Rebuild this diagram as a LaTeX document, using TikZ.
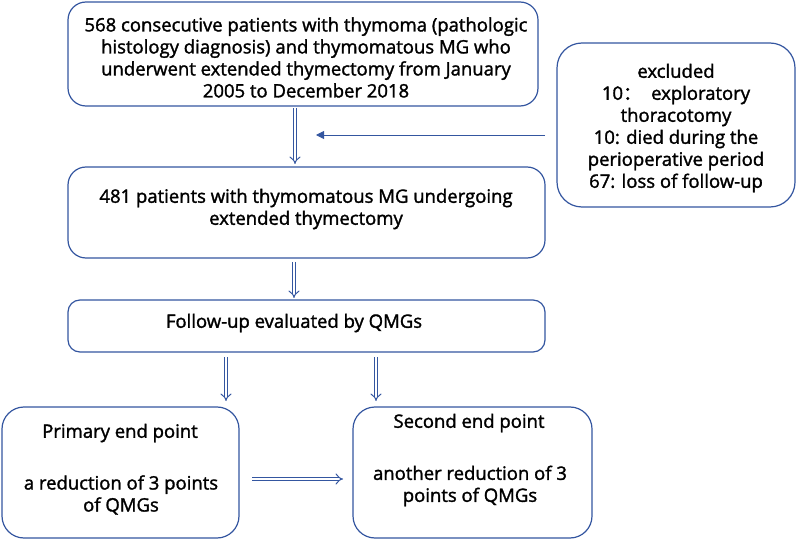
\documentclass[tikz,border=0pt]{standalone}
\usepackage{fontspec}
\setmainfont{Open Sans}[FakeBold=1.6]
\newfontfamily\cjk{Noto Sans CJK SC}[FakeBold=1.6]
\usetikzlibrary{arrows.meta}
\definecolor{bl}{RGB}{52,86,160}
\begin{document}
\begin{tikzpicture}[x=1pt,y=-1pt,
  box/.style={draw=bl,line width=1.2pt,rounded corners=18pt,fill=white},
  txt/.style={align=center,font=\fontsize{18.5}{22}\selectfont,text=black,inner sep=0pt},
  dbl/.style={draw=bl,double=white,double distance=2.8pt,line width=1pt,-{Implies}},
  sgl/.style={draw=bl,line width=0.9pt,-{Triangle[length=8pt,width=8pt]}}]
\useasboundingbox (0,0) rectangle (796,540);
% boxes
\draw[box] (68,2) rectangle (538,106);
\node[txt] (t1) at (306,57.5) {568 consecutive patients with thymoma (pathologic\\histology diagnosis) and thymomatous MG who\\underwent extended thymectomy from January\\2005 to December 2018};
\coordinate (b1s) at (295,108);
\draw[box] (68,167) rectangle (545,258);
\node[txt] (t2) at (306,209) {481 patients with thymomatous MG undergoing\\extended thymectomy};
\coordinate (b2n) at (295,164);
\coordinate (b2s) at (294,262);
\draw[box,rounded corners=25pt] (557,43) rectangle (795,207);
\node[txt] (t3) at (676,128) {excluded\\10{\cjk ：}\ \ exploratory\\thoracotomy\\10: died during the\\perioperative period\\67: loss of follow-up};
\coordinate (exw) at (545,135);
\coordinate (exe) at (316,135);
\draw[box,rounded corners=12pt] (68,300) rectangle (545,352);
\node[txt] (t4) at (294,323) {Follow-up evaluated by QMGs};
\coordinate (f1n) at (294,298);
\coordinate (f1a) at (226,357);
\coordinate (f1b) at (376,357);
\coordinate (p1) at (226,401);
\coordinate (p2) at (376,401);
\draw[box,rounded corners=22pt] (2,407) rectangle (239,538);
\node[txt] (t5) at (120,433) {Primary end point};
\node[txt] (t6) at (121,495) {a reduction of 3 points\\of QMGs};
\draw[box,rounded corners=22pt] (353,407) rectangle (592,538);
\node[txt] (t7) at (469,423) {Second end point};
\node[txt] (t8) at (470,486) {another reduction of 3\\points of QMGs};
\coordinate (h1) at (252,479);
\coordinate (h2) at (343,479);
% arrows
\draw[dbl] (b1s) -- (b2n);
\draw[dbl] (b2s) -- (f1n);
\draw[dbl] (f1a) -- (p1);
\draw[dbl] (f1b) -- (p2);
\draw[dbl] (h1) -- (h2);
\draw[sgl] (exw) -- (exe);
\end{tikzpicture}
\end{document}
